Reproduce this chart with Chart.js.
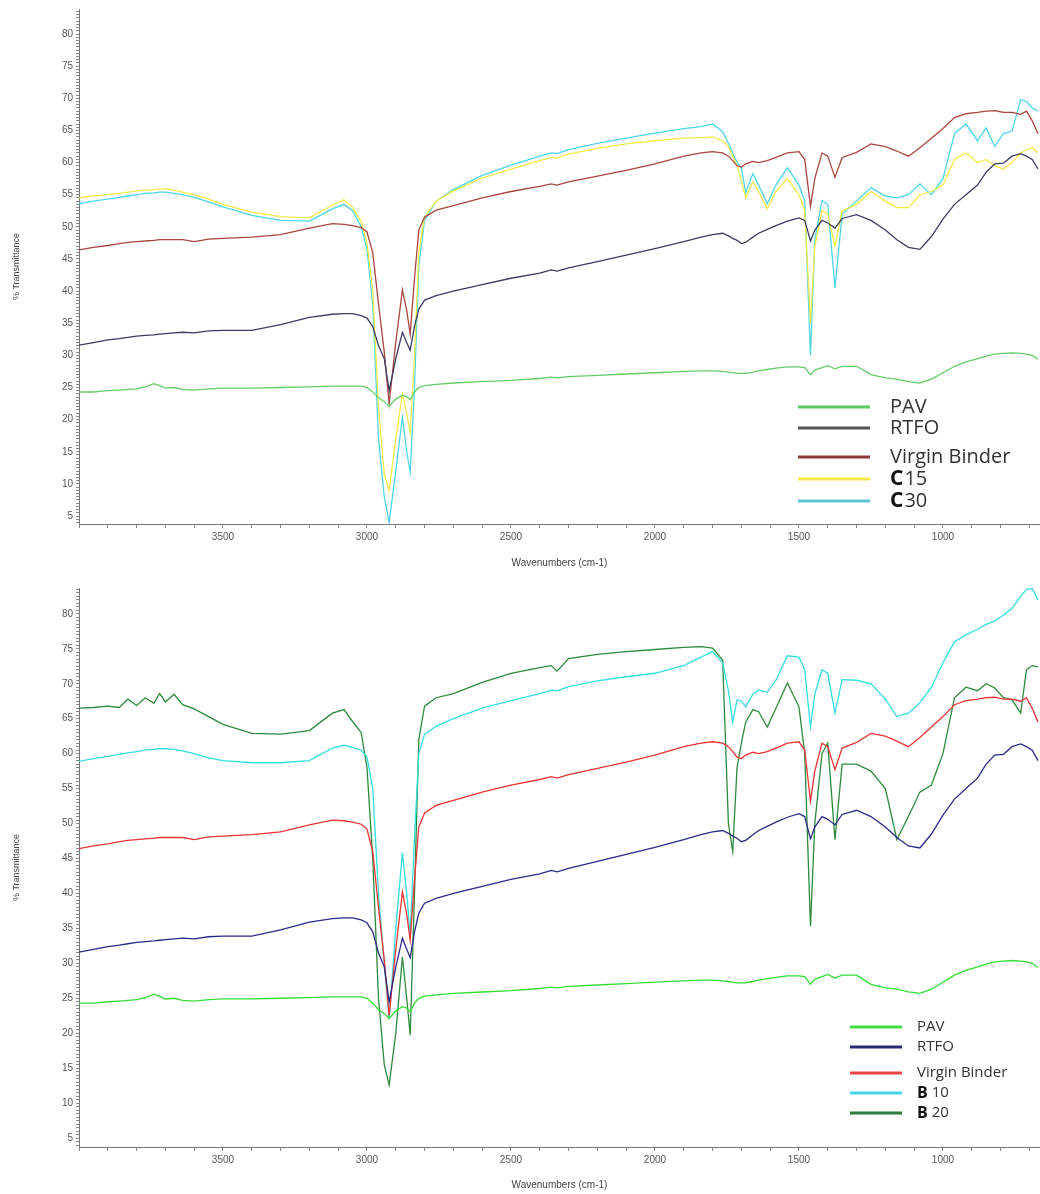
<!DOCTYPE html>
<html>
<head>
<meta charset="utf-8">
<script src="https://cdn.jsdelivr.net/npm/chart.js@4"></script>
<style>
  body { margin: 0; background: #fff; }
  #wrap { position: relative; width: 1040px; height: 1194px; }
  canvas { position: absolute; left: 0; }
</style>
</head>
<body>
<div id="wrap">
  <canvas id="topChart" width="1040" height="578" style="top:0"></canvas>
  <canvas id="bottomChart" width="1040" height="616" style="top:578px"></canvas>
</div>
<script>
// wavenumber grid (cm-1), shared by every spectrum
const wavenumbers = [
  4000, 3950, 3900, 3860, 3830, 3800, 3770, 3740, 3720, 3700,
  3670, 3640, 3600, 3550, 3500, 3400, 3300, 3200, 3120, 3080,
  3050, 3020, 3000, 2980, 2960, 2940, 2923, 2900, 2877, 2862,
  2850, 2835, 2820, 2800, 2760, 2700, 2600, 2500, 2400, 2360,
  2340, 2300, 2200, 2100, 2000, 1900, 1840, 1800, 1765, 1745,
  1730, 1715, 1700, 1685, 1660, 1640, 1610, 1580, 1540, 1500,
  1480, 1460, 1445, 1420, 1400, 1375, 1350, 1300, 1250, 1200,
  1160, 1120, 1080, 1040, 1000, 960, 920, 880, 850, 820,
  790, 760, 730, 710, 690, 670
];

const pav = [
  24.3, 24.3, 24.5, 24.6, 24.7, 24.8, 25.1, 25.6, 25.3, 24.9,
  25.0, 24.7, 24.6, 24.8, 24.9, 24.9, 25.0, 25.1, 25.2, 25.2,
  25.2, 25.2, 25.0, 24.3, 23.4, 22.8, 22.1, 23.2, 23.8, 23.6,
  23.1, 24.3, 25.0, 25.3, 25.5, 25.7, 25.9, 26.1, 26.4, 26.6,
  26.5, 26.7, 26.9, 27.1, 27.3, 27.5, 27.6, 27.6, 27.5, 27.4,
  27.3, 27.2, 27.2, 27.2, 27.4, 27.6, 27.8, 28.0, 28.2, 28.2,
  28.1, 27.0, 27.7, 28.1, 28.4, 27.9, 28.3, 28.3, 27.0, 26.5,
  26.3, 25.9, 25.7, 26.3, 27.3, 28.3, 29.0, 29.5, 29.9, 30.2,
  30.3, 30.4, 30.3, 30.2, 30.0, 29.4
];

const rtfo = [
  31.6, 32.0, 32.4, 32.6, 32.8, 33.0, 33.1, 33.2, 33.3, 33.4,
  33.5, 33.6, 33.5, 33.8, 33.9, 33.9, 34.8, 35.9, 36.4, 36.5,
  36.5, 36.2, 35.8, 34.5, 31.5, 29.5, 24.5, 29.5, 33.6, 32.0,
  30.8, 34.5, 37.2, 38.6, 39.3, 40.0, 41.0, 42.0, 42.8, 43.3,
  43.1, 43.6, 44.6, 45.6, 46.6, 47.7, 48.4, 48.8, 49.0, 48.6,
  48.2, 47.9, 47.4, 47.6, 48.4, 49.0, 49.6, 50.2, 50.9, 51.4,
  51.0, 47.8, 49.5, 51.0, 50.6, 49.8, 51.3, 51.9, 51.0, 49.5,
  48.0, 46.8, 46.5, 48.5, 51.2, 53.5, 55.0, 56.5, 58.5, 59.8,
  59.9, 61.0, 61.4, 61.0, 60.5, 59.0
];

const virgin = [
  46.4, 46.8, 47.1, 47.4, 47.6, 47.7, 47.8, 47.9, 48.0, 48.0,
  48.0, 48.0, 47.7, 48.1, 48.2, 48.4, 48.8, 49.8, 50.5, 50.4,
  50.2, 49.9, 49.2, 46.0, 38.0, 30.5, 22.5, 32.0, 40.2, 37.0,
  33.3, 42.0, 49.5, 51.5, 52.6, 53.3, 54.5, 55.5, 56.3, 56.7,
  56.5, 57.0, 57.9, 58.8, 59.8, 61.0, 61.5, 61.7, 61.5, 61.0,
  60.3, 59.5, 59.3, 59.8, 60.2, 60.0, 60.3, 60.8, 61.5, 61.7,
  60.5, 53.2, 57.5, 61.5, 61.0, 57.7, 60.8, 61.6, 62.9, 62.5,
  61.8, 61.0, 62.3, 63.8, 65.3, 67.0, 67.6, 67.8, 68.0, 68.1,
  67.8, 67.8, 67.5, 68.0, 66.5, 64.5
];

const c15 = [
  54.5, 54.8, 55.0, 55.2, 55.4, 55.6, 55.7, 55.8, 55.9, 55.9,
  55.7, 55.4, 55.0, 54.3, 53.5, 52.3, 51.6, 51.4, 53.4, 54.2,
  53.0, 50.8, 47.5, 40.0, 22.0, 11.5, 9.0, 17.0, 24.0, 21.0,
  18.0, 30.0, 46.0, 51.5, 54.0, 55.6, 57.6, 59.0, 60.3, 60.8,
  60.7, 61.3, 62.2, 62.9, 63.4, 63.8, 63.9, 64.0, 63.4, 62.5,
  61.0, 59.5, 57.2, 54.5, 57.0, 55.5, 52.8, 55.5, 57.5, 55.0,
  52.5, 35.0, 47.0, 52.5, 52.0, 47.0, 52.5, 53.5, 55.5, 54.0,
  53.0, 53.0, 55.0, 55.5, 56.5, 60.5, 61.5, 60.0, 60.5, 59.5,
  59.0, 60.0, 61.5, 62.0, 62.3, 61.5
];

const c30 = [
  53.6, 54.0, 54.3, 54.6, 54.8, 55.0, 55.2, 55.3, 55.4, 55.4,
  55.2, 55.0, 54.6, 53.9, 53.1, 51.8, 51.0, 50.9, 52.8, 53.5,
  52.5, 50.0, 46.5, 38.0, 17.0, 8.0, 4.0, 12.0, 20.4, 15.0,
  11.8, 25.0, 44.0, 51.0, 54.0, 55.8, 58.0, 59.6, 61.0, 61.5,
  61.4, 62.0, 63.0, 63.8, 64.6, 65.3, 65.6, 66.0, 64.8, 63.0,
  61.5, 60.0, 59.2, 55.3, 58.3, 56.5, 53.6, 56.5, 59.2, 56.5,
  54.1, 30.0, 48.0, 54.1, 53.5, 40.5, 52.0, 54.0, 56.1, 54.8,
  54.5, 55.0, 56.7, 55.0, 57.5, 64.5, 66.0, 63.4, 65.4, 62.5,
  64.5, 64.9, 69.8, 69.5, 68.5, 68.0
];

const b10 = [
  58.9, 59.3, 59.6, 59.9, 60.1, 60.3, 60.5, 60.6, 60.7, 60.7,
  60.6, 60.4, 60.0, 59.4, 59.0, 58.7, 58.7, 59.0, 60.8, 61.2,
  60.9, 60.5, 59.5, 55.0, 40.0, 30.0, 22.0, 35.0, 45.8, 40.0,
  34.0, 48.0, 60.0, 62.8, 63.9, 65.0, 66.5, 67.6, 68.6, 69.1,
  69.0, 69.6, 70.4, 71.0, 71.5, 72.6, 73.8, 74.6, 73.0, 69.0,
  64.5, 67.7, 67.5, 66.7, 68.5, 69.1, 68.8, 70.5, 74.0, 73.8,
  72.0, 63.8, 68.5, 72.0, 71.5, 65.8, 70.6, 70.5, 70.0, 67.8,
  65.3, 65.8, 67.3, 69.5, 73.0, 76.0, 77.0, 77.8, 78.5, 79.0,
  79.8, 80.8, 82.5, 83.5, 83.6, 82.0
];

const b20 = [
  66.5, 66.6, 66.8, 66.6, 67.8, 66.9, 68.0, 67.2, 68.6, 67.4,
  68.5, 67.0, 66.4, 65.3, 64.2, 62.9, 62.8, 63.3, 65.8, 66.3,
  64.6, 63.0, 58.0, 45.0, 25.0, 15.5, 12.6, 20.0, 30.9, 25.0,
  19.7, 40.0, 62.0, 66.8, 68.0, 68.6, 70.2, 71.5, 72.3, 72.6,
  71.8, 73.6, 74.2, 74.6, 74.9, 75.2, 75.3, 75.1, 73.4, 50.0,
  46.0, 58.0, 61.5, 64.5, 66.3, 66.0, 63.8, 66.5, 70.1, 66.7,
  60.0, 35.3, 50.0, 60.0, 61.5, 47.7, 58.5, 58.5, 57.5, 55.0,
  47.7, 51.0, 54.5, 55.5, 60.0, 68.0, 69.5, 69.0, 70.0, 69.4,
  68.0, 67.7, 65.8, 72.0, 72.6, 72.4
];

const xTickLabels = [3500, 3000, 2500, 2000, 1500, 1000];
const yTickLabels = [5, 10, 15, 20, 25, 30, 35, 40, 45, 50, 55, 60, 65, 70, 75, 80];

const topLabels = ['PAV', 'RTFO', 'Virgin Binder', 'C15', 'C30'];
const bottomLabels = ['PAV', 'RTFO', 'Virgin Binder', 'B10', 'B20'];

const tickFont = { family: 'Liberation Sans, Arial, sans-serif', size: 10 };

function points(values) {
  return wavenumbers.map((w, i) => ({ x: w, y: values[i] }));
}

function line(label, values, color) {
  return {
    label,
    data: points(values),
    borderColor: color,
    backgroundColor: color,
    borderWidth: 1.3,
    pointRadius: 0,
    tension: 0
  };
}

function xScale(height, titlePad) {
  return {
    type: 'linear',
    reverse: true,
    min: 663,
    max: 4000,
    ticks: {
      stepSize: 100,
      autoSkip: false,
      maxRotation: 0,
      includeBounds: false,
      padding: 3,
      color: '#555',
      font: tickFont,
      callback: v => xTickLabels.includes(Math.round(v)) ? String(Math.round(v)) : ''
    },
    grid: { drawOnChartArea: false, tickLength: 4, color: '#888' },
    border: { color: '#777' },
    title: {
      display: true,
      text: 'Wavenumbers (cm-1)',
      color: '#444',
      font: tickFont,
      padding: { top: 0, bottom: titlePad }
    },
    afterFit: s => { s.height = height; }
  };
}

// min/max must not span a whole number of 0.5 steps, or Chart.js starts the ticks at min
function yScale(min, max) {
  return {
    min,
    max,
    ticks: {
      stepSize: 0.5,
      autoSkip: false,
      includeBounds: false,
      padding: 3,
      color: '#555',
      font: tickFont,
      // minor ticks every 0.5, labels only on the multiples of 5
      callback: v => {
        const r = Math.round(v * 10) / 10;
        return yTickLabels.includes(r) ? String(r) : '';
      }
    },
    grid: { drawOnChartArea: false, tickLength: 3, color: '#888' },
    border: { color: '#777' },
    title: {
      display: true,
      text: '% Transmittance',
      color: '#444',
      font: { family: tickFont.family, size: 9 },
      padding: { top: 11, bottom: 0 }
    },
    afterFit: s => { s.width = 79; }
  };
}

// hand drawn legend, the original sits inside the plot at the lower right
const spectraLegend = {
  id: 'spectraLegend',
  afterDraw(chart, args, opts) {
    const ctx = chart.ctx;
    ctx.save();
    opts.labels.forEach((label, i) => {
      const y = opts.rows[i];
      ctx.strokeStyle = opts.colors[i];
      ctx.lineWidth = 3;
      ctx.beginPath();
      ctx.moveTo(opts.x0, y);
      ctx.lineTo(opts.x1, y);
      ctx.stroke();

      ctx.fillStyle = '#333';
      ctx.textBaseline = 'middle';
      let x = opts.textX;
      let rest = label;
      if (/^[BC]\d/.test(label)) {
        ctx.font = 'bold ' + (opts.size + 1) + 'px "Open Sans", sans-serif';
        ctx.fillStyle = '#111';
        ctx.fillText(label[0], x, y);
        x += ctx.measureText(label[0]).width + opts.gap;
        rest = label.slice(1);
        ctx.fillStyle = '#333';
      }
      ctx.font = opts.size + 'px "Open Sans", sans-serif';
      ctx.fillText(rest, x, y);
    });
    ctx.restore();
  }
};

new Chart(document.getElementById('topChart'), {
  type: 'line',
  data: {
    datasets: [
      line(topLabels[0], pav, '#66cc66'),
      line(topLabels[1], rtfo, '#3c3c62'),
      line(topLabels[2], virgin, '#a8453e'),
      line(topLabels[3], c15, '#f2ea4a'),
      line(topLabels[4], c30, '#4fd6e6')
    ]
  },
  options: {
    responsive: false,
    animation: false,
    layout: { padding: { top: 8, right: 0, bottom: 0, left: 0 } },
    plugins: {
      legend: { display: false },
      tooltip: { enabled: false },
      spectraLegend: {
        labels: topLabels,
        colors: ['#5cc95c', '#555555', '#8e3b3b', '#f3e84a', '#5cc7cf'],
        rows: [407, 428, 457, 479, 501],
        x0: 798, x1: 870, textX: 890, size: 20, gap: 1
      }
    },
    scales: { x: xScale(54, 9), y: yScale(3.76, 83.9) }
  },
  plugins: [spectraLegend]
});

new Chart(document.getElementById('bottomChart'), {
  type: 'line',
  data: {
    datasets: [
      line(bottomLabels[0], pav, '#33dd33'),
      line(bottomLabels[1], rtfo, '#2a2a88'),
      line(bottomLabels[2], virgin, '#ee3333'),
      line(bottomLabels[3], b10, '#33dede'),
      line(bottomLabels[4], b20, '#2d8a3c')
    ]
  },
  options: {
    responsive: false,
    animation: false,
    layout: { padding: { top: 10, right: 0, bottom: 0, left: 0 } },
    plugins: {
      legend: { display: false },
      tooltip: { enabled: false },
      spectraLegend: {
        labels: bottomLabels,
        colors: ['#44dd44', '#2b2b78', '#ee4444', '#44d8e8', '#2e7d3e'],
        rows: [449, 469, 495, 515, 535],
        x0: 850, x1: 902, textX: 917, size: 15, gap: 4
      }
    },
    scales: { x: xScale(47, 3), y: yScale(3.72, 83.7) }
  },
  plugins: [spectraLegend]
});
</script>
</body>
</html>
